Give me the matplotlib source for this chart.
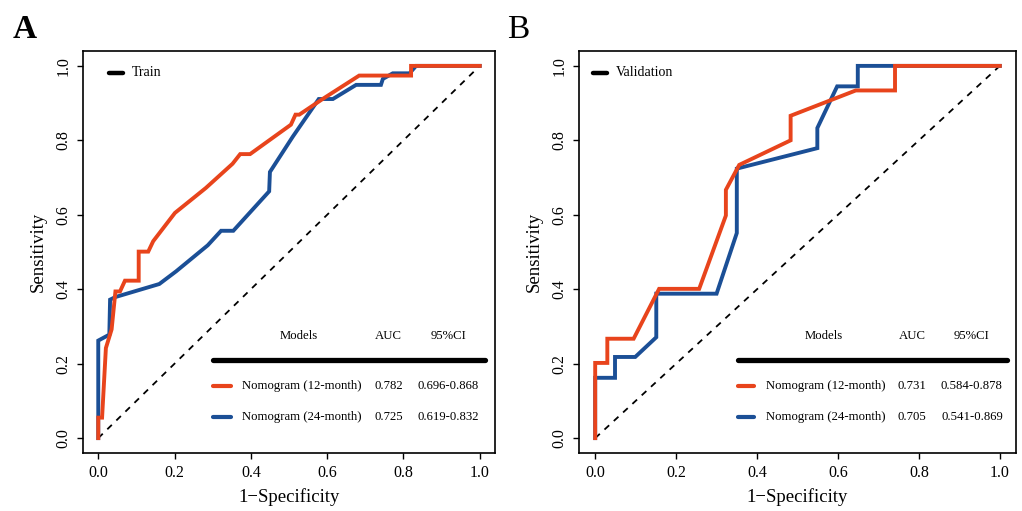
import matplotlib
matplotlib.use("Agg")
import matplotlib.pyplot as plt

plt.rcParams['font.family'] = ['Liberation Serif', 'DejaVu Serif']

# ---------------- data ----------------
train_12_fpr = [0.0, 0.0, 0.010, 0.020, 0.035, 0.045, 0.057, 0.070, 0.106, 0.106, 0.131, 0.144,
                0.201, 0.282, 0.352, 0.372, 0.398, 0.505, 0.517, 0.527, 0.588, 0.684, 0.820, 0.820, 1.0]
train_12_tpr = [0.0, 0.055, 0.055, 0.242, 0.292, 0.394, 0.394, 0.423, 0.423, 0.501, 0.501, 0.529,
                0.605, 0.672, 0.737, 0.763, 0.763, 0.842, 0.869, 0.869, 0.911, 0.974, 0.974, 1.0, 1.0]
train_24_fpr = [0.0, 0.0, 0.029, 0.031, 0.045, 0.160, 0.204, 0.287, 0.322, 0.354, 0.448, 0.450,
                0.510, 0.578, 0.615, 0.676, 0.741, 0.746, 0.772, 0.816, 0.833, 1.0]
train_24_tpr = [0.0, 0.262, 0.278, 0.372, 0.379, 0.414, 0.448, 0.518, 0.557, 0.557, 0.663, 0.715,
                0.810, 0.911, 0.911, 0.949, 0.949, 0.965, 0.980, 0.980, 1.0, 1.0]
valid_12_fpr = [0.0, 0.0, 0.030, 0.030, 0.095, 0.158, 0.257, 0.323, 0.323, 0.356, 0.483, 0.483,
                0.644, 0.741, 0.741, 1.0]
valid_12_tpr = [0.0, 0.202, 0.202, 0.267, 0.267, 0.401, 0.401, 0.598, 0.667, 0.734, 0.800, 0.866,
                0.934, 0.934, 1.0, 1.0]
valid_24_fpr = [0.0, 0.0, 0.049, 0.049, 0.099, 0.151, 0.151, 0.300, 0.350, 0.350, 0.549, 0.549,
                0.598, 0.649, 0.649, 1.0]
valid_24_tpr = [0.0, 0.162, 0.162, 0.218, 0.218, 0.271, 0.388, 0.388, 0.551, 0.724, 0.779, 0.833,
                0.945, 0.945, 1.0, 1.0]

model_names = ["Nomogram (12-month)", "Nomogram (24-month)"]
train_auc = ["0.782", "0.725"]
train_ci = ["0.696-0.868", "0.619-0.832"]
valid_auc = ["0.731", "0.705"]
valid_ci = ["0.584-0.878", "0.541-0.869"]
ticks = [0.0, 0.2, 0.4, 0.6, 0.8, 1.0]
tick_labels = ["0.0", "0.2", "0.4", "0.6", "0.8", "1.0"]

RED = "#E8441C"
BLUE = "#1B4F96"

W, H = 1022, 511
fig = plt.figure(figsize=(W / 100, H / 100), dpi=100)


def px_axes(left, top, right, bottom):
    return fig.add_axes([left / W, 1 - bottom / H, (right - left) / W, (bottom - top) / H])


def panel(ax, curves, tag, names, aucs, cis, tab):
    ax.plot([0, 1], [0, 1], ls=(0, (3.5, 3.5)), color="black", lw=1.3, zorder=1)
    (f12, t12), (f24, t24) = curves
    ax.plot(f24, t24, color=BLUE, lw=2.8, zorder=2, solid_joinstyle="miter")
    ax.plot(f12, t12, color=RED, lw=2.8, zorder=3, solid_joinstyle="miter")
    ax.set_xlim(-0.04, 1.04)
    ax.set_ylim(-0.04, 1.04)
    ax.set_xticks(ticks)
    ax.set_xticklabels(tick_labels)
    ax.set_yticks(ticks)
    ax.set_yticklabels(tick_labels, rotation=90, va="center")
    ax.tick_params(direction="out", length=4.5, width=1.0, labelsize=11.5, pad=4)
    for s in ax.spines.values():
        s.set_linewidth(1.2)
    ax.set_xlabel("1\u2212Specificity", fontsize=13.5, labelpad=5)
    ax.set_ylabel("Sensitivity", fontsize=13.5, labelpad=6)

    # top-left tag legend
    lx0, lx1, ltx = tab["tag"]
    ax.plot([lx0, lx1], [0.981, 0.981], color="black", lw=3.2, solid_capstyle="round")
    ax.text(ltx, 0.981, tag, fontsize=10, va="center", ha="left")

    # table legend
    ax.text(tab["models"], 0.273, "Models", fontsize=9.2, ha="center", va="center")
    ax.text(tab["auc"], 0.273, "AUC", fontsize=9.2, ha="center", va="center")
    ax.text(tab["ci"], 0.273, "95%CI", fontsize=9.2, ha="center", va="center")
    ax.plot([tab["l0"], tab["l1"]], [0.211, 0.211], color="black", lw=3.8,
            solid_capstyle="round", clip_on=False)
    for y, col, nm, a, ci in zip([0.139, 0.058], [RED, BLUE], names, aucs, cis):
        ax.plot([tab["l0"], tab["s1"]], [y, y], color=col, lw=3.0, solid_capstyle="round")
        ax.text(tab["txt"], y, nm, fontsize=9.2, ha="left", va="center")
        ax.text(tab["auc"], y, a, fontsize=9.2, ha="center", va="center")
        ax.text(tab["ci"], y, ci, fontsize=9.2, ha="center", va="center")


axA = px_axes(83, 51, 495, 453)
panel(axA, [(train_12_fpr, train_12_tpr), (train_24_fpr, train_24_tpr)], "Train",
      model_names, train_auc, train_ci,
      dict(tag=(0.029, 0.066, 0.089), models=0.527, auc=0.761, ci=0.917,
           l0=0.302, l1=1.013, s1=0.349, txt=0.378))

axB = px_axes(579, 51, 1016, 453)
panel(axB, [(valid_12_fpr, valid_12_tpr), (valid_24_fpr, valid_24_tpr)], "Validation",
      model_names, valid_auc, valid_ci,
      dict(tag=(-0.006, 0.030, 0.052), models=0.566, auc=0.783, ci=0.931,
           l0=0.352, l1=1.018, s1=0.393, txt=0.422))

fig.text(25 / W, 1 - 38 / H, "A", fontsize=24, fontweight="bold", ha="center", va="baseline")
fig.text(518 / W, 1 - 38 / H, "B", fontsize=24, ha="center", va="baseline")

fig.savefig("out.png", dpi=100)
